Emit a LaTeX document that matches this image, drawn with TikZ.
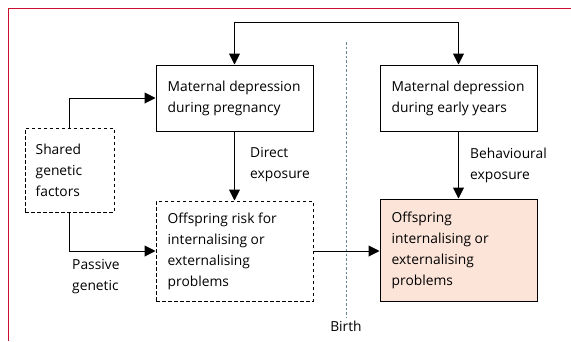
\documentclass[tikz,border=0pt]{standalone}
\usepackage{fontspec}
\setmainfont{Open Sans}
\usetikzlibrary{positioning}
\usetikzlibrary{arrows.meta}
\definecolor{lancetred}{HTML}{C8102E}
\definecolor{birthgrey}{HTML}{6A8494}
\definecolor{outcomefill}{HTML}{FCE4D8}
\tikzset{
    box/.style = {rectangle,draw,line width=1pt,inner sep=0pt},
    dashbox/.style = {box,dash pattern=on 3.5pt off 2.5pt},
    lbl/.style = {align=left,inner sep=0pt,anchor=west,font=\fontsize{13.8}{21}\selectfont},
    arr/.style = {line width=1pt,-{Triangle[length=11pt,width=11pt]}}}
\begin{document}
\begin{tikzpicture}[x=1pt,y=-1pt]
    \useasboundingbox (0,0) rectangle (571,341);
    % frame
    \draw[lancetred,line width=0.8pt] (8,341) -- (8,8) -- (571,8);
    % birth line
    \draw[birthgrey,line width=0.9pt,dash pattern=on 2.5pt off 2pt] (346,42) coordinate (birthtop) -- (346,317) coordinate (birthbot);
    \node[anchor=north,inner sep=0pt,font=\fontsize{13.8}{21}\selectfont] (birth) at (346,321) {Birth};
    % boxes
    \node[box,minimum width=157pt,minimum height=66pt] (MDP) at (234.5,98) {};
    \node[box,minimum width=157pt,minimum height=66pt] (MDE) at (458.5,98) {};
    \node[dashbox,minimum width=89pt,minimum height=84pt] (SGF) at (69.5,170) {};
    \node[dashbox,minimum width=157pt,minimum height=100pt] (OR) at (234.5,251) {};
    \node[box,fill=outcomefill,minimum width=157pt,minimum height=102pt] (OP) at (458.5,250) {};
    % box texts
    \node[lbl] (MDPtxt) at ([xshift=12pt]MDP.west) {Maternal depression\\during pregnancy};
    \node[lbl] (MDEtxt) at ([xshift=12pt]MDE.west) {Maternal depression\\during early years};
    \node[lbl] (SGFtxt) at ([xshift=11pt]SGF.west) {Shared\\genetic\\factors};
    \node[lbl] (ORtxt) at ([xshift=12pt]OR.west) {Offspring risk for\\internalising or\\externalising\\problems};
    \node[lbl] (OPtxt) at ([xshift=12pt]OP.west) {Offspring\\internalising or\\externalising\\problems};
    % labels
    \node[lbl] (direct) at (250,165) {Direct\\exposure};
    \node[lbl] (behav) at (470,165) {Behavioural\\exposure};
    \node[lbl] (passive) at (72,277) {Passive\\genetic};
    % arrows
    \draw[arr,{Triangle[length=11pt,width=11pt]}-{Triangle[length=11pt,width=11pt]}] (MDP.north) -- ++(0,-42) -| (MDE.north);
    \draw[arr] (SGF.north) |- (MDP.west);
    \draw[arr] (SGF.south) |- (OR.west);
    \draw[arr] (MDP.south) -- (OR.north);
    \draw[arr] (MDE.south) -- (OP.north);
    \draw[arr] (OR.east) -- (OR.east -| OP.west);
\end{tikzpicture}
\end{document}
